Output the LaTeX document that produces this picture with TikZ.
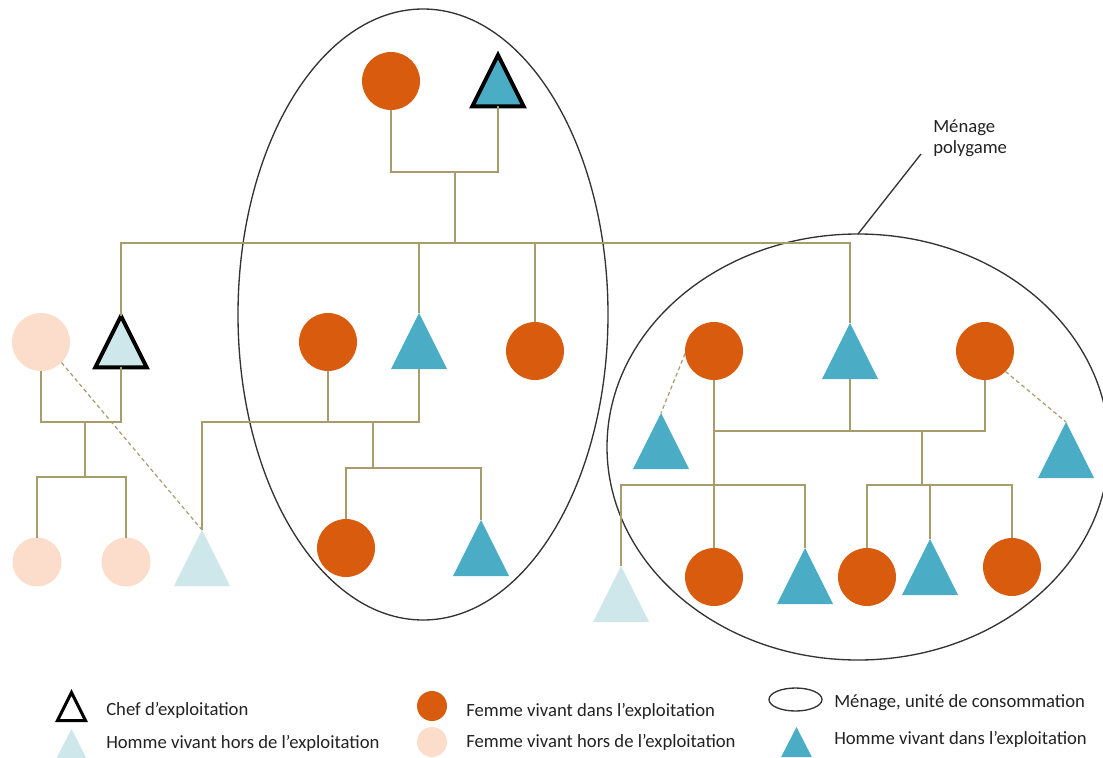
\documentclass[tikz,border=0pt]{standalone}
\usepackage{fontspec}
\setmainfont{Carlito}
\usetikzlibrary{shapes.geometric}
\definecolor{orng}{HTML}{D95B0E}
\definecolor{blu}{HTML}{4BACC6}
\definecolor{lblu}{HTML}{CDE7EA}
\definecolor{peach}{HTML}{FCDCCB}
\definecolor{lnk}{HTML}{A89C6C}
\definecolor{hh}{HTML}{333333}
\definecolor{txt}{HTML}{222222}
\begin{document}
\begin{tikzpicture}[x=0.75pt,y=-0.75pt,
  circ/.style={circle, inner sep=0pt, outer sep=0pt, minimum size=43.5pt},
  femin/.style={circ, fill=orng},
  femout/.style={circ, fill=peach},
  tri/.style={isosceles triangle, shape border rotate=90, isosceles triangle stretches,
    inner sep=0pt, outer sep=0pt, minimum width=42pt, minimum height=42pt, anchor=apex},
  manin/.style={tri, fill=blu},
  manout/.style={tri, fill=lblu},
  chef/.style={tri, draw=black, line width=3pt, minimum width=38.5pt, minimum height=38.5pt},
  menage/.style={ellipse, draw=hh, line width=1pt, inner sep=0pt, outer sep=0pt},
  link/.style={draw=lnk, line width=0.9pt},
  kin/.style={draw=lnk, line width=0.9pt, dash pattern=on 3pt off 2.2pt},
  lbl/.style={font=\fontsize{14pt}{16pt}\selectfont, text=txt, inner sep=0pt, anchor=base west},
]
\useasboundingbox (0,0) rectangle (1103,757);

% households
\node[menage, minimum width=277.5pt, minimum height=458.25pt] (E1) at (423,314.5) {};
\node[menage, minimum width=376.5pt, minimum height=319.5pt] (E2) at (858,447) {};

% top couple
\node[femin] (F0) at (391,81) {};
\node[chef, fill=blu] (H0) at (498,55) {};

% left family
\node[femout] (P1) at (41,342) {};
\node[chef, fill=lblu] (H1) at (121,316) {};
\node[femout, minimum size=36.75pt] (P2) at (37,562) {};
\node[femout, minimum size=36.75pt] (P3) at (126,562) {};
\node[manout] (L1) at (202,530) {};

% middle household
\node[femin] (F1) at (328,342) {};
\node[manin] (M1) at (419,313) {};
\node[femin] (F3) at (535,351) {};
\node[femin] (F2) at (346,548) {};
\node[manin] (M2) at (481,520) {};

% right household
\node[femin] (F4) at (714,351) {};
\node[manin] (T2) at (850,323) {};
\node[femin] (F5) at (985,351) {};
\node[manin] (M3) at (661,413) {};
\node[manin] (M4) at (1066,422) {};
\node[manout] (L2) at (621,566) {};
\node[femin] (F6) at (714,577) {};
\node[manin] (M5) at (805,548) {};
\node[femin] (F7) at (867,577) {};
\node[manin] (M6) at (930,539) {};
\node[femin] (F8) at (1012,567) {};

% connectors
\coordinate (c0) at (455,172);
\coordinate (bus) at (455,243);
\draw[link] (F0.south) |- (c0) -| (H0.lower side);
\draw[link] (c0) -- (bus);
\draw[link] (H1.apex) |- (bus) -| (T2.apex);
\draw[link] (M1.apex) -- (M1.apex |- bus);
\draw[link] (F3.north) -- (F3.north |- bus);

\coordinate (cL) at (85,422);
\coordinate (kL) at (85,477);
\draw[link] (P1.south) |- (cL) -| (H1.lower side);
\draw[link] (cL) -- (kL);
\draw[link] (P2.north) |- (kL) -| (P3.north);

\coordinate (cM) at (373,422);
\coordinate (kM) at (373,468);
\draw[link] (L1.apex) |- (cM) -| (M1.lower side);
\draw[link] (F1.south) -- (F1.south |- cM);
\draw[link] (cM) -- (kM);
\draw[link] (F2.north) |- (kM) -| (M2.apex);

\coordinate (cR) at (922,431);
\coordinate (kR1) at (714,485);
\coordinate (kR2) at (922,485);
\draw[link] (F4.south) |- (cR) -| (F5.south);
\draw[link] (T2.lower side) -- (T2.lower side |- cR);
\draw[link] (F4.south) -- (F6.north);
\draw[link] (L2.apex) |- (kR1) -| (M5.apex);
\draw[link] (cR) -- (kR2);
\draw[link] (F7.north) |- (kR2) -| (F8.north);
\draw[link] (M6.apex) -- (M6.apex |- kR2);

\draw[kin] (P1.-45) -- (L1.apex);
\draw[kin] (F4.185) -- (M3.apex);
\draw[kin] (F5.-45) -- (M4.apex);

% annotation
\coordinate (annot) at (921,154);
\draw[draw=hh, line width=1pt] (E2.north) -- (annot);
\node[lbl] (t1) at (933,132) {Ménage};
\node[lbl] (t2) at (933,153) {polygame};

% legend
\node[chef, fill=white, line width=2.25pt, minimum width=21pt, minimum height=21pt] (g1) at (71.5,692.5) {};
\node[lbl] (g1t) at (106,715) {Chef d’exploitation};
\node[manout, minimum width=23pt, minimum height=22.5pt] (g2) at (71.5,729) {};
\node[lbl] (g2t) at (106,748) {Homme vivant hors de l’exploitation};
\node[femin, minimum size=22.5pt] (g3) at (432,706) {};
\node[lbl] (g3t) at (466,716) {Femme vivant dans l’exploitation};
\node[femout, minimum size=22.5pt] (g4) at (432,742) {};
\node[lbl] (g4t) at (466,747) {Femme vivant hors de l’exploitation};
\node[menage, minimum width=39.75pt, minimum height=17.25pt] (g5) at (795.5,699.5) {};
\node[lbl] (g5t) at (834,707) {Ménage, unité de consommation};
\node[manin, minimum width=23pt, minimum height=22.5pt] (g6) at (796.5,727) {};
\node[lbl] (g6t) at (834,744) {Homme vivant dans l’exploitation};
\end{tikzpicture}
\end{document}
